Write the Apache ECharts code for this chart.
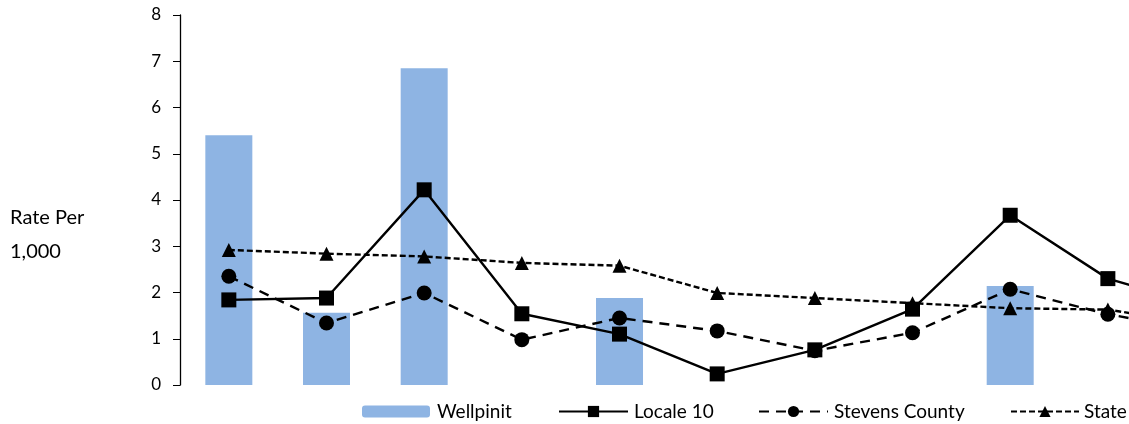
<!DOCTYPE html>
<html>
<head>
<meta charset="utf-8">
<script src="https://cdn.jsdelivr.net/npm/echarts@6/dist/echarts.min.js"></script>
<style>
  html, body { margin: 0; padding: 0; background: #fff; }
  #chart { width: 1129px; height: 424px; }
</style>
</head>
<body>
<div id="chart"></div>
<script>
// categories (unlabelled in the original, chart is cut at the right)
const categories = ['1', '2', '3', '4', '5', '6', '7', '8', '9', '10', '11'];
const wellpinit = [5.4, 1.56, 6.85, null, 1.88, null, null, null, 2.14, null, null];
const locale10 = [1.84, 1.88, 4.22, 1.54, 1.1, 0.24, 0.76, 1.64, 3.67, 2.3, 1.7];
const stevens = [2.35, 1.34, 1.99, 0.98, 1.45, 1.17, 0.74, 1.13, 2.07, 1.53, 1.15];
const state = [2.92, 2.84, 2.78, 2.64, 2.58, 1.99, 1.88, 1.77, 1.66, 1.63, 1.3];
const yTicks = [0, 8, 1];

const font = 'Lato, "Open Sans", sans-serif';

document.addEventListener('DOMContentLoaded', function() {
    const chart = echarts.init(document.getElementById('chart'));

    const catWidth = 97.67;

    function legendAt(left, name, w, h, pad) {
        return {
            left: left,
            top: 397,
            itemWidth: w,
            itemHeight: h,
            itemGap: 0,
            data: [name],
            textStyle: {
                fontFamily: font,
                fontSize: 19,
                color: '#000',
                padding: [0, 0, 0, pad]
            }
        };
    }

    const option = {
        animation: false,
        title: {
            text: 'Rate Per\n1,000',
            left: 10,
            top: 201,
            padding: 0,
            textStyle: {
                fontFamily: font,
                fontSize: 20,
                fontWeight: 'normal',
                color: '#000',
                lineHeight: 34
            }
        },
        legend: [
            legendAt(357, 'Wellpinit', 68, 12, 2),
            legendAt(553, 'Locale 10', 69, 14, 1),
            legendAt(753, 'Stevens County', 69, 14, 1),
            legendAt(1005, 'State', 68, 14, 0)
        ],
        grid: {
            left: 180,
            top: 15,
            height: 370,
            width: catWidth * categories.length,
            outerBoundsMode: 'none'
        },
        xAxis: {
            type: 'category',
            data: categories,
            axisLine: { show: false },
            axisTick: { show: false },
            axisLabel: { show: false }
        },
        yAxis: {
            type: 'value',
            min: yTicks[0],
            max: yTicks[1],
            interval: yTicks[2],
            axisLine: { show: true, lineStyle: { color: '#000', width: 1.3 } },
            axisTick: { show: true, length: 7, lineStyle: { color: '#000' } },
            splitLine: { show: false },
            axisLabel: {
                fontFamily: font,
                fontSize: 17,
                color: '#000',
                margin: 19
            }
        },
        series: [
            {
                name: 'Wellpinit',
                type: 'bar',
                barWidth: 47,
                itemStyle: { color: '#8eb4e3' },
                data: wellpinit
            },
            {
                name: 'Locale 10',
                type: 'line',
                symbol: 'rect',
                symbolSize: 15,
                lineStyle: { color: '#000', width: 2.4 },
                itemStyle: { color: '#000' },
                data: locale10
            },
            {
                name: 'Stevens County',
                type: 'line',
                symbol: 'circle',
                symbolSize: 15,
                lineStyle: { color: '#000', width: 2.4, type: [10, 7] },
                itemStyle: { color: '#000' },
                data: stevens
            },
            {
                name: 'State',
                type: 'line',
                symbol: 'triangle',
                symbolSize: 14,
                lineStyle: { color: '#000', width: 2.4, type: [6, 3] },
                itemStyle: { color: '#000' },
                data: state
            }
        ]
    };

    chart.setOption(option);
});
</script>
</body>
</html>
